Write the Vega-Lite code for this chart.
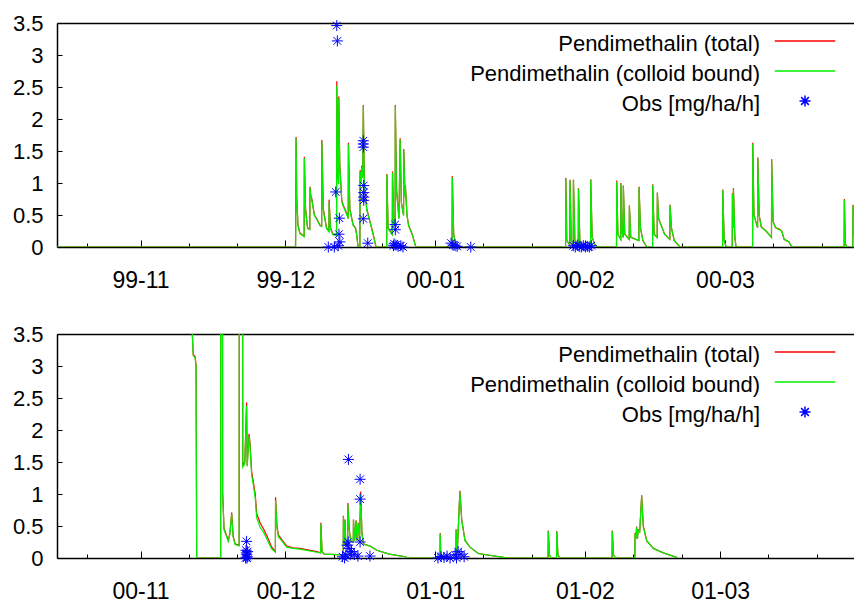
{
"$schema": "https://vega.github.io/schema/vega-lite/v6.json",
"autosize": {"type": "pad"},
"padding": {"left": 12, "top": 12, "right": 0, "bottom": 0},
"bounds": "flush",
"spacing": 87,
"config": {"view": {"stroke": null}, "font": "Liberation Sans", "background": "white"},
"resolve": {"scale": {"color": "independent"}, "legend": {"color": "independent"}},
"datasets": {
"topSim": [
{"t":"1999-10-14T00:00","total":0,"colloid":0},
{"t":"1999-12-03T02:00","total":0,"colloid":0},
{"t":"1999-12-03T03:00","total":0.5,"colloid":0.02},
{"t":"1999-12-03T05:00","total":1.72,"colloid":1.7},
{"t":"1999-12-03T08:00","total":0.8,"colloid":0.78},
{"t":"1999-12-03T14:00","total":0.35,"colloid":0.34},
{"t":"1999-12-04T00:00","total":0.22,"colloid":0.21},
{"t":"1999-12-04T21:00","total":0.17,"colloid":0.16},
{"t":"1999-12-04T22:00","total":1.41,"colloid":1.39},
{"t":"1999-12-05T04:00","total":0.6,"colloid":0.58},
{"t":"1999-12-05T14:00","total":0.3,"colloid":0.29},
{"t":"1999-12-06T01:00","total":0.28,"colloid":0.27},
{"t":"1999-12-06T02:00","total":0.94,"colloid":0.93},
{"t":"1999-12-06T06:00","total":0.8,"colloid":0.79},
{"t":"1999-12-06T10:00","total":0.77,"colloid":0.76},
{"t":"1999-12-07T00:00","total":0.5,"colloid":0.49},
{"t":"1999-12-07T12:00","total":0.44,"colloid":0.43},
{"t":"1999-12-08T04:00","total":0.34,"colloid":0.33},
{"t":"1999-12-08T12:00","total":0.33,"colloid":0.32},
{"t":"1999-12-08T13:00","total":1.67,"colloid":1.64},
{"t":"1999-12-08T20:00","total":0.6,"colloid":0.58},
{"t":"1999-12-09T12:00","total":0.3,"colloid":0.29},
{"t":"1999-12-10T00:00","total":0.25,"colloid":0.24},
{"t":"1999-12-10T01:00","total":0.74,"colloid":0.7},
{"t":"1999-12-10T08:00","total":0.3,"colloid":0.28},
{"t":"1999-12-10T20:00","total":0.2,"colloid":0.19},
{"t":"1999-12-11T14:00","total":0.19,"colloid":0.18},
{"t":"1999-12-11T15:00","total":2.59,"colloid":2.52},
{"t":"1999-12-11T20:00","total":1.2,"colloid":1.17},
{"t":"1999-12-12T00:00","total":1.0,"colloid":0.98},
{"t":"1999-12-12T01:00","total":2.35,"colloid":2.32},
{"t":"1999-12-12T06:00","total":1.3,"colloid":1.27},
{"t":"1999-12-12T16:00","total":0.73,"colloid":0.71},
{"t":"1999-12-13T00:00","total":0.65,"colloid":0.63},
{"t":"1999-12-13T20:00","total":0.5,"colloid":0.48},
{"t":"1999-12-14T00:00","total":0.45,"colloid":0.44},
{"t":"1999-12-14T01:00","total":1.63,"colloid":1.6},
{"t":"1999-12-14T08:00","total":0.6,"colloid":0.58},
{"t":"1999-12-15T00:00","total":0.35,"colloid":0.34},
{"t":"1999-12-15T12:00","total":0.3,"colloid":0.29},
{"t":"1999-12-15T18:00","total":0.2,"colloid":0.19},
{"t":"1999-12-16T00:00","total":0.02,"colloid":0.02},
{"t":"1999-12-16T02:00","total":0,"colloid":0},
{"t":"1999-12-16T10:00","total":0,"colloid":0},
{"t":"1999-12-16T11:00","total":1.2,"colloid":1.18},
{"t":"1999-12-16T14:00","total":1.0,"colloid":0.98},
{"t":"1999-12-16T19:00","total":1.27,"colloid":1.25},
{"t":"1999-12-17T00:00","total":1.1,"colloid":1.08},
{"t":"1999-12-17T03:00","total":2.22,"colloid":2.2},
{"t":"1999-12-17T08:00","total":1.0,"colloid":0.98},
{"t":"1999-12-17T20:00","total":0.6,"colloid":0.58},
{"t":"1999-12-18T17:00","total":0.34,"colloid":0.33},
{"t":"1999-12-19T08:00","total":0.15,"colloid":0.14},
{"t":"1999-12-19T18:00","total":0,"colloid":0},
{"t":"1999-12-21T23:00","total":0,"colloid":0},
{"t":"1999-12-22T00:00","total":1.14,"colloid":1.13},
{"t":"1999-12-22T06:00","total":0.3,"colloid":0.29},
{"t":"1999-12-23T03:00","total":0.2,"colloid":0.19},
{"t":"1999-12-23T04:00","total":1.18,"colloid":1.16},
{"t":"1999-12-23T10:00","total":0.4,"colloid":0.39},
{"t":"1999-12-23T17:00","total":0.35,"colloid":0.34},
{"t":"1999-12-23T18:00","total":2.22,"colloid":2.2},
{"t":"1999-12-24T00:00","total":0.9,"colloid":0.88},
{"t":"1999-12-24T12:00","total":0.45,"colloid":0.44},
{"t":"1999-12-24T18:00","total":1.7,"colloid":1.68},
{"t":"1999-12-25T00:00","total":0.7,"colloid":0.68},
{"t":"1999-12-25T11:00","total":0.5,"colloid":0.49},
{"t":"1999-12-25T12:00","total":1.53,"colloid":1.51},
{"t":"1999-12-25T18:00","total":0.8,"colloid":0.78},
{"t":"1999-12-25T20:00","total":0.96,"colloid":0.95},
{"t":"1999-12-26T04:00","total":0.5,"colloid":0.49},
{"t":"1999-12-26T12:00","total":0.34,"colloid":0.33},
{"t":"1999-12-27T06:00","total":0.2,"colloid":0.19},
{"t":"1999-12-28T00:00","total":0,"colloid":0},
{"t":"2000-01-04T12:00","total":0,"colloid":0},
{"t":"2000-01-04T13:00","total":1.11,"colloid":1.09},
{"t":"2000-01-04T20:00","total":0.2,"colloid":0.19},
{"t":"2000-01-05T06:00","total":0.05,"colloid":0.05},
{"t":"2000-01-05T18:00","total":0,"colloid":0},
{"t":"2000-01-28T00:00","total":0,"colloid":0},
{"t":"2000-01-28T01:00","total":1.08,"colloid":1.07},
{"t":"2000-01-28T06:00","total":0.1,"colloid":0.1},
{"t":"2000-01-28T21:00","total":0.03,"colloid":0.03},
{"t":"2000-01-28T22:00","total":1.05,"colloid":1.04},
{"t":"2000-01-29T04:00","total":0.1,"colloid":0.1},
{"t":"2000-01-29T14:00","total":0.05,"colloid":0.05},
{"t":"2000-01-29T15:00","total":1.05,"colloid":1.04},
{"t":"2000-01-29T22:00","total":0.1,"colloid":0.1},
{"t":"2000-01-30T15:00","total":0.03,"colloid":0.03},
{"t":"2000-01-30T16:00","total":0.92,"colloid":0.91},
{"t":"2000-01-30T23:00","total":0.08,"colloid":0.08},
{"t":"2000-01-31T12:00","total":0,"colloid":0},
{"t":"2000-02-02T04:00","total":0,"colloid":0},
{"t":"2000-02-02T05:00","total":1.06,"colloid":1.05},
{"t":"2000-02-02T12:00","total":0.15,"colloid":0.15},
{"t":"2000-02-03T00:00","total":0.05,"colloid":0.05},
{"t":"2000-02-03T12:00","total":0,"colloid":0},
{"t":"2000-02-07T13:00","total":0,"colloid":0},
{"t":"2000-02-07T14:00","total":1.04,"colloid":1.02},
{"t":"2000-02-07T20:00","total":0.2,"colloid":0.2},
{"t":"2000-02-08T10:00","total":0.12,"colloid":0.12},
{"t":"2000-02-08T11:00","total":1.0,"colloid":0.99},
{"t":"2000-02-08T16:00","total":0.25,"colloid":0.25},
{"t":"2000-02-08T22:00","total":0.15,"colloid":0.15},
{"t":"2000-02-08T23:00","total":0.96,"colloid":0.95},
{"t":"2000-02-09T06:00","total":0.2,"colloid":0.2},
{"t":"2000-02-10T04:00","total":0.12,"colloid":0.12},
{"t":"2000-02-10T05:00","total":0.65,"colloid":0.64},
{"t":"2000-02-10T12:00","total":0.15,"colloid":0.15},
{"t":"2000-02-12T04:00","total":0.1,"colloid":0.1},
{"t":"2000-02-12T05:00","total":0.94,"colloid":0.93},
{"t":"2000-02-12T12:00","total":0.3,"colloid":0.3},
{"t":"2000-02-13T00:00","total":0.1,"colloid":0.1},
{"t":"2000-02-13T19:00","total":0,"colloid":0},
{"t":"2000-02-15T00:00","total":0,"colloid":0},
{"t":"2000-02-15T01:00","total":0.98,"colloid":0.97},
{"t":"2000-02-15T08:00","total":0.2,"colloid":0.2},
{"t":"2000-02-15T23:00","total":0.15,"colloid":0.15},
{"t":"2000-02-16T00:00","total":0.85,"colloid":0.84},
{"t":"2000-02-16T06:00","total":0.45,"colloid":0.44},
{"t":"2000-02-16T18:00","total":0.35,"colloid":0.34},
{"t":"2000-02-17T12:00","total":0.2,"colloid":0.2},
{"t":"2000-02-18T14:00","total":0.12,"colloid":0.12},
{"t":"2000-02-18T15:00","total":0.66,"colloid":0.65},
{"t":"2000-02-18T22:00","total":0.3,"colloid":0.3},
{"t":"2000-02-19T12:00","total":0.1,"colloid":0.1},
{"t":"2000-02-20T17:00","total":0,"colloid":0},
{"t":"2000-02-29T12:00","total":0,"colloid":0},
{"t":"2000-02-29T13:00","total":0.9,"colloid":0.89},
{"t":"2000-02-29T20:00","total":0.1,"colloid":0.1},
{"t":"2000-03-01T06:00","total":0,"colloid":0},
{"t":"2000-03-02T12:00","total":0,"colloid":0},
{"t":"2000-03-02T13:00","total":0.84,"colloid":0.83},
{"t":"2000-03-02T16:00","total":0.3,"colloid":0.3},
{"t":"2000-03-02T18:00","total":0.92,"colloid":0.91},
{"t":"2000-03-03T01:00","total":0.15,"colloid":0.15},
{"t":"2000-03-03T07:00","total":0,"colloid":0},
{"t":"2000-03-06T17:00","total":0,"colloid":0},
{"t":"2000-03-06T18:00","total":1.63,"colloid":1.61},
{"t":"2000-03-07T00:00","total":0.5,"colloid":0.49},
{"t":"2000-03-07T18:00","total":0.3,"colloid":0.3},
{"t":"2000-03-07T19:00","total":1.4,"colloid":1.38},
{"t":"2000-03-08T02:00","total":0.5,"colloid":0.49},
{"t":"2000-03-08T12:00","total":0.32,"colloid":0.31},
{"t":"2000-03-09T12:00","total":0.25,"colloid":0.25},
{"t":"2000-03-10T15:00","total":0.15,"colloid":0.15},
{"t":"2000-03-10T16:00","total":1.37,"colloid":1.35},
{"t":"2000-03-10T23:00","total":0.4,"colloid":0.39},
{"t":"2000-03-11T12:00","total":0.3,"colloid":0.3},
{"t":"2000-03-12T06:00","total":0.28,"colloid":0.27},
{"t":"2000-03-12T18:00","total":0.25,"colloid":0.25},
{"t":"2000-03-13T06:00","total":0.12,"colloid":0.12},
{"t":"2000-03-13T18:00","total":0.1,"colloid":0.1},
{"t":"2000-03-14T06:00","total":0.08,"colloid":0.08},
{"t":"2000-03-14T20:00","total":0,"colloid":0},
{"t":"2000-03-25T16:00","total":0,"colloid":0},
{"t":"2000-03-25T17:00","total":0.75,"colloid":0.74},
{"t":"2000-03-25T22:00","total":0.05,"colloid":0.05},
{"t":"2000-03-26T06:00","total":0,"colloid":0},
{"t":"2000-03-27T11:00","total":0,"colloid":0},
{"t":"2000-03-27T12:00","total":0.66,"colloid":0.65},
{"t":"2000-03-27T18:00","total":0.2,"colloid":0.2},
{"t":"2000-03-28T12:00","total":0.05,"colloid":0.05}
],
"topObs": [
{"t":"1999-12-09T21:00","obs":0},
{"t":"1999-12-11T03:00","obs":0},
{"t":"1999-12-11T10:00","obs":0.86},
{"t":"1999-12-11T15:00","obs":3.46},
{"t":"1999-12-11T18:00","obs":3.22},
{"t":"1999-12-11T22:00","obs":0.02},
{"t":"1999-12-12T02:00","obs":0.2},
{"t":"1999-12-12T04:00","obs":0.45},
{"t":"1999-12-12T06:00","obs":0.08},
{"t":"1999-12-17T03:00","obs":1.66},
{"t":"1999-12-17T03:00","obs":1.61},
{"t":"1999-12-17T03:00","obs":1.56},
{"t":"1999-12-17T03:00","obs":0.44},
{"t":"1999-12-17T05:00","obs":0.96},
{"t":"1999-12-17T05:00","obs":0.85},
{"t":"1999-12-17T05:00","obs":0.78},
{"t":"1999-12-17T05:00","obs":0.73},
{"t":"1999-12-18T01:00","obs":0.06},
{"t":"1999-12-23T09:00","obs":0.02},
{"t":"1999-12-23T12:00","obs":0.05},
{"t":"1999-12-23T17:00","obs":0.35},
{"t":"1999-12-23T18:00","obs":0.27},
{"t":"1999-12-23T21:00","obs":0.03},
{"t":"1999-12-24T08:00","obs":0.01},
{"t":"1999-12-24T21:00","obs":0.02},
{"t":"1999-12-25T08:00","obs":0},
{"t":"2000-01-04T07:00","obs":0.06},
{"t":"2000-01-04T17:00","obs":0.03},
{"t":"2000-01-05T03:00","obs":0.02},
{"t":"2000-01-05T13:00","obs":0.01},
{"t":"2000-01-08T09:00","obs":0},
{"t":"2000-01-29T14:00","obs":0.02},
{"t":"2000-01-30T00:00","obs":0},
{"t":"2000-01-30T10:00","obs":0.03},
{"t":"2000-01-30T20:00","obs":0.01},
{"t":"2000-01-31T06:00","obs":0},
{"t":"2000-01-31T16:00","obs":0.02},
{"t":"2000-02-01T02:00","obs":0},
{"t":"2000-02-01T12:00","obs":0.01},
{"t":"2000-02-01T22:00","obs":0},
{"t":"2000-02-02T08:00","obs":0.02}
],
"botSim": [
{"t":"2000-11-11T12:00","total":6,"colloid":6},
{"t":"2000-11-11T16:00","total":3.6,"colloid":3.58},
{"t":"2000-11-11T22:00","total":3.18,"colloid":3.16},
{"t":"2000-11-12T07:00","total":3.15,"colloid":3.13},
{"t":"2000-11-12T12:00","total":3.02,"colloid":3.0},
{"t":"2000-11-12T15:00","total":0,"colloid":0},
{"t":"2000-11-17T14:00","total":0,"colloid":0},
{"t":"2000-11-17T15:00","total":6,"colloid":6},
{"t":"2000-11-17T23:00","total":5,"colloid":5},
{"t":"2000-11-18T00:00","total":1.03,"colloid":1.0},
{"t":"2000-11-18T07:00","total":0.46,"colloid":0.44},
{"t":"2000-11-18T20:00","total":0.35,"colloid":0.33},
{"t":"2000-11-19T04:00","total":0.27,"colloid":0.26},
{"t":"2000-11-19T12:00","total":0.39,"colloid":0.37},
{"t":"2000-11-19T21:00","total":0.71,"colloid":0.69},
{"t":"2000-11-20T04:00","total":0.35,"colloid":0.33},
{"t":"2000-11-20T14:00","total":0.22,"colloid":0.21},
{"t":"2000-11-21T10:00","total":0.2,"colloid":0.19},
{"t":"2000-11-21T11:00","total":6,"colloid":6},
{"t":"2000-11-22T03:00","total":5,"colloid":5},
{"t":"2000-11-22T04:00","total":1.45,"colloid":1.42},
{"t":"2000-11-22T14:00","total":1.5,"colloid":1.47},
{"t":"2000-11-22T23:00","total":2.43,"colloid":2.38},
{"t":"2000-11-23T02:00","total":1.45,"colloid":1.43},
{"t":"2000-11-23T11:00","total":1.94,"colloid":1.9},
{"t":"2000-11-23T16:00","total":1.8,"colloid":1.75},
{"t":"2000-11-24T00:00","total":1.35,"colloid":1.3},
{"t":"2000-11-24T08:00","total":1.2,"colloid":1.15},
{"t":"2000-11-24T18:00","total":1.0,"colloid":0.94},
{"t":"2000-11-25T01:00","total":0.7,"colloid":0.63},
{"t":"2000-11-25T18:00","total":0.55,"colloid":0.48},
{"t":"2000-11-26T12:00","total":0.45,"colloid":0.4},
{"t":"2000-11-27T03:00","total":0.35,"colloid":0.3},
{"t":"2000-11-28T04:00","total":0.17,"colloid":0.14},
{"t":"2000-11-28T22:00","total":0.1,"colloid":0.09},
{"t":"2000-11-28T23:00","total":0.95,"colloid":0.9},
{"t":"2000-11-29T06:00","total":0.5,"colloid":0.47},
{"t":"2000-11-29T13:00","total":0.36,"colloid":0.33},
{"t":"2000-11-30T05:00","total":0.29,"colloid":0.27},
{"t":"2000-12-01T06:00","total":0.19,"colloid":0.17},
{"t":"2000-12-02T12:00","total":0.16,"colloid":0.15},
{"t":"2000-12-04T00:00","total":0.15,"colloid":0.14},
{"t":"2000-12-07T12:00","total":0.1,"colloid":0.09},
{"t":"2000-12-08T07:00","total":0.08,"colloid":0.08},
{"t":"2000-12-08T08:00","total":0.55,"colloid":0.53},
{"t":"2000-12-08T14:00","total":0.1,"colloid":0.1},
{"t":"2000-12-09T00:00","total":0.06,"colloid":0.06},
{"t":"2000-12-12T23:00","total":0.05,"colloid":0.05},
{"t":"2000-12-13T00:00","total":0.66,"colloid":0.65},
{"t":"2000-12-13T04:00","total":0.2,"colloid":0.2},
{"t":"2000-12-13T08:00","total":0.6,"colloid":0.59},
{"t":"2000-12-13T12:00","total":0.22,"colloid":0.22},
{"t":"2000-12-13T21:00","total":0.2,"colloid":0.2},
{"t":"2000-12-13T22:00","total":0.86,"colloid":0.84},
{"t":"2000-12-14T05:00","total":0.45,"colloid":0.44},
{"t":"2000-12-14T12:00","total":0.27,"colloid":0.27},
{"t":"2000-12-15T01:00","total":0.25,"colloid":0.25},
{"t":"2000-12-15T02:00","total":0.6,"colloid":0.59},
{"t":"2000-12-15T08:00","total":0.27,"colloid":0.27},
{"t":"2000-12-15T15:00","total":0.59,"colloid":0.58},
{"t":"2000-12-15T20:00","total":0.27,"colloid":0.27},
{"t":"2000-12-16T02:00","total":0.55,"colloid":0.54},
{"t":"2000-12-16T08:00","total":0.27,"colloid":0.27},
{"t":"2000-12-16T14:00","total":1.04,"colloid":1.0},
{"t":"2000-12-16T20:00","total":0.4,"colloid":0.39},
{"t":"2000-12-17T03:00","total":0.22,"colloid":0.22},
{"t":"2000-12-18T17:00","total":0.18,"colloid":0.18},
{"t":"2000-12-19T22:00","total":0.12,"colloid":0.12},
{"t":"2000-12-22T12:00","total":0.06,"colloid":0.06},
{"t":"2000-12-25T19:00","total":0.02,"colloid":0.02},
{"t":"2000-12-26T12:00","total":0,"colloid":0},
{"t":"2001-01-02T00:00","total":0,"colloid":0},
{"t":"2001-01-02T01:00","total":0.39,"colloid":0.38},
{"t":"2001-01-02T04:00","total":0.03,"colloid":0.03},
{"t":"2001-01-03T12:00","total":0,"colloid":0},
{"t":"2001-01-05T07:00","total":0,"colloid":0},
{"t":"2001-01-05T08:00","total":0.45,"colloid":0.44},
{"t":"2001-01-05T14:00","total":0.1,"colloid":0.1},
{"t":"2001-01-06T00:00","total":0.85,"colloid":0.84},
{"t":"2001-01-06T03:00","total":1.05,"colloid":1.03},
{"t":"2001-01-06T12:00","total":0.6,"colloid":0.59},
{"t":"2001-01-07T04:00","total":0.28,"colloid":0.27},
{"t":"2001-01-08T05:00","total":0.17,"colloid":0.17},
{"t":"2001-01-09T22:00","total":0.07,"colloid":0.07},
{"t":"2001-01-15T02:00","total":0.01,"colloid":0.01},
{"t":"2001-01-16T00:00","total":0,"colloid":0},
{"t":"2001-01-24T09:00","total":0,"colloid":0},
{"t":"2001-01-24T10:00","total":0.43,"colloid":0.42},
{"t":"2001-01-24T16:00","total":0.05,"colloid":0.05},
{"t":"2001-01-25T00:00","total":0,"colloid":0},
{"t":"2001-01-26T03:00","total":0,"colloid":0},
{"t":"2001-01-26T04:00","total":0.42,"colloid":0.41},
{"t":"2001-01-26T10:00","total":0.05,"colloid":0.05},
{"t":"2001-01-26T20:00","total":0,"colloid":0},
{"t":"2001-02-06T15:00","total":0,"colloid":0},
{"t":"2001-02-06T16:00","total":0.43,"colloid":0.42},
{"t":"2001-02-06T22:00","total":0.05,"colloid":0.05},
{"t":"2001-02-07T08:00","total":0,"colloid":0},
{"t":"2001-02-11T08:00","total":0,"colloid":0},
{"t":"2001-02-11T09:00","total":0.39,"colloid":0.38},
{"t":"2001-02-11T13:00","total":0.3,"colloid":0.3},
{"t":"2001-02-11T17:00","total":0.49,"colloid":0.48},
{"t":"2001-02-11T21:00","total":0.3,"colloid":0.3},
{"t":"2001-02-12T01:00","total":0.45,"colloid":0.44},
{"t":"2001-02-12T08:00","total":0.4,"colloid":0.39},
{"t":"2001-02-12T18:00","total":0.98,"colloid":0.96},
{"t":"2001-02-13T02:00","total":0.5,"colloid":0.49},
{"t":"2001-02-13T19:00","total":0.27,"colloid":0.27},
{"t":"2001-02-15T04:00","total":0.15,"colloid":0.15},
{"t":"2001-02-17T06:00","total":0.08,"colloid":0.08},
{"t":"2001-02-20T00:00","total":0.01,"colloid":0.01},
{"t":"2001-02-20T06:00","total":0,"colloid":0}
],
"botObs": [
{"t":"2000-11-22T18:00","obs":0},
{"t":"2000-11-22T20:00","obs":0.12},
{"t":"2000-11-22T22:00","obs":0.08},
{"t":"2000-11-22T23:00","obs":0.26},
{"t":"2000-11-23T00:00","obs":0.05},
{"t":"2000-11-23T01:00","obs":0},
{"t":"2000-11-23T02:00","obs":0.02},
{"t":"2000-11-23T04:00","obs":0.1},
{"t":"2000-12-12T20:00","obs":0.02},
{"t":"2000-12-13T06:00","obs":0},
{"t":"2000-12-13T12:00","obs":0.05},
{"t":"2000-12-13T18:00","obs":0.2},
{"t":"2000-12-14T00:00","obs":0.25},
{"t":"2000-12-14T01:00","obs":1.54},
{"t":"2000-12-14T04:00","obs":0.15},
{"t":"2000-12-14T10:00","obs":0.05},
{"t":"2000-12-14T16:00","obs":0.1},
{"t":"2000-12-15T06:00","obs":0.06},
{"t":"2000-12-16T00:00","obs":0.03},
{"t":"2000-12-16T11:00","obs":1.23},
{"t":"2000-12-16T11:00","obs":0.92},
{"t":"2000-12-16T11:00","obs":0.25},
{"t":"2000-12-18T12:00","obs":0.03},
{"t":"2001-01-01T14:00","obs":0},
{"t":"2001-01-02T05:00","obs":0.02},
{"t":"2001-01-02T20:00","obs":0.01},
{"t":"2001-01-03T11:00","obs":0.03},
{"t":"2001-01-04T02:00","obs":0},
{"t":"2001-01-05T03:00","obs":0.05},
{"t":"2001-01-05T10:00","obs":0},
{"t":"2001-01-05T18:00","obs":0.1},
{"t":"2001-01-06T09:00","obs":0.06},
{"t":"2001-01-07T00:00","obs":0.02}
]
},
"vconcat": [
{
"width": 797, "height": 224,
"resolve": {"axis": {"x": "independent"}},
"layer": [
{"data": {"name": "topSim"}, "mark": {"type": "line", "clip": true, "strokeWidth": 1.2},
 "encoding": {
  "x": {"field": "t", "type": "temporal", "scale": {"domain": [{"year":1999,"month":10,"date":14,"hours":17},{"year":2000,"month":3,"date":27,"hours":17}], "nice": false},
        "axis": {"orient": "bottom", "title": null, "grid": false, "format": "%y-%m", "values": [{"year":1999,"month":11,"date":1},{"year":1999,"month":12,"date":1},{"year":2000,"month":1,"date":1},{"year":2000,"month":2,"date":1},{"year":2000,"month":3,"date":1}],
                 "tickSize": -7, "tickColor": "black", "tickWidth": 1, "labelPadding": 29, "labelFlush": false, "labelOverlap": false, "labelFontSize": 23, "labelColor": "black", "domainColor": "black", "domainWidth": 1.5}},
  "y": {"field": "total", "type": "quantitative", "scale": {"domain": [0, 3.5], "nice": false, "zero": false},
        "axis": {"title": null, "grid": false, "values": [0,0.5,1,1.5,2,2.5,3,3.5], "format": "~g", "tickSize": -5, "tickColor": "black", "labelPadding": 19, "labelFontSize": 22, "labelColor": "black", "domainColor": "black", "domainWidth": 1.5}},
  "color": {"datum": "total", "type": "nominal",
            "scale": {"domain": ["total", "colloid", "obs"], "range": ["#ff0000", "#00f000", "#0000ff"]},
            "legend": {"orient": "none", "legendX": 737, "legendY": 7, "title": null, "padding": 0,
                       "labelExpr": "datum.value === 'total' ? 'Pendimethalin (total)' : datum.value === 'colloid' ? 'Pendimethalin (colloid bound)' : 'Obs [mg/ha/h]'",
                       "labelAlign": "right", "labelOffset": -56, "labelFontSize": 22, "labelColor": "black", "labelLimit": 500,
                       "symbolSize": 121, "symbolStrokeWidth": 1.5, "rowPadding": 5,
                       "encode": {"symbols": {"update": {"shape": {"signal": "datum.value === 'obs' ? 'M-1,0L1,0M0,-1L0,1M-0.7,-0.7L0.7,0.7M-0.7,0.7L0.7,-0.7' : 'M-5.5,0L5.5,0'"}, "fill": {"value": "transparent"}, "stroke": {"signal": "datum.value === 'total' ? '#ff0000' : datum.value === 'colloid' ? '#00f000' : '#0000ff'"}, "strokeWidth": {"value": 1.5}, "opacity": {"value": 1}, "size": {"value": 121}}},
                                  "labels": {"update": {"dy": {"value": 3}}}}}}
 }},
{"data": {"name": "topSim"}, "mark": {"type": "line", "clip": true, "strokeWidth": 1.2},
 "encoding": {
  "x": {"field": "t", "type": "temporal", "scale": {"domain": [{"year":1999,"month":10,"date":14,"hours":17},{"year":2000,"month":3,"date":27,"hours":17}], "nice": false},
        "axis": {"orient": "bottom", "title": null, "grid": false, "labels": false, "domain": false, "values": [{"year":1999,"month":10,"date":21},{"year":1999,"month":11,"date":11},{"year":1999,"month":11,"date":21},{"year":1999,"month":12,"date":11},{"year":1999,"month":12,"date":21},{"year":2000,"month":1,"date":11},{"year":2000,"month":1,"date":21},{"year":2000,"month":2,"date":11},{"year":2000,"month":2,"date":21},{"year":2000,"month":3,"date":11},{"year":2000,"month":3,"date":21}],
                 "tickSize": -4, "tickColor": "black", "tickWidth": 1}},
  "y": {"field": "colloid", "type": "quantitative", "scale": {"domain": [0, 3.5], "nice": false, "zero": false},
        "axis": {"title": null, "grid": false, "values": [0,0.5,1,1.5,2,2.5,3,3.5], "format": "~g", "tickSize": -5, "tickColor": "black", "labelPadding": 19, "labelFontSize": 22, "labelColor": "black", "domainColor": "black", "domainWidth": 1.5}},
  "color": {"datum": "colloid", "type": "nominal"}
 }},
{"data": {"name": "topObs"}, "mark": {"type": "point", "filled": false, "shape": "M-1,0L1,0M0,-1L0,1M-0.7,-0.7L0.7,0.7M-0.7,0.7L0.7,-0.7", "size": 121, "strokeWidth": 1, "opacity": 1},
 "encoding": {
  "x": {"field": "t", "type": "temporal", "scale": {"domain": [{"year":1999,"month":10,"date":14,"hours":17},{"year":2000,"month":3,"date":27,"hours":17}], "nice": false},
        "axis": {"orient": "top", "title": null, "grid": false, "labels": false, "ticks": false, "domain": true, "domainColor": "black", "domainWidth": 1.5}},
  "y": {"field": "obs", "type": "quantitative", "scale": {"domain": [0, 3.5], "nice": false, "zero": false},
        "axis": {"title": null, "grid": false, "values": [0,0.5,1,1.5,2,2.5,3,3.5], "format": "~g", "tickSize": -5, "tickColor": "black", "labelPadding": 19, "labelFontSize": 22, "labelColor": "black", "domainColor": "black", "domainWidth": 1.5}},
  "color": {"datum": "obs", "type": "nominal"}
 }}
]
},
{
"width": 797, "height": 224,
"resolve": {"axis": {"x": "independent"}},
"layer": [
{"data": {"name": "botSim"}, "mark": {"type": "line", "clip": true, "strokeWidth": 1.2},
 "encoding": {
  "x": {"field": "t", "type": "temporal", "scale": {"domain": [{"year":2000,"month":10,"date":14,"hours":17},{"year":2001,"month":3,"date":28,"hours":17}], "nice": false},
        "axis": {"orient": "bottom", "title": null, "grid": false, "format": "%y-%m", "values": [{"year":2000,"month":11,"date":1},{"year":2000,"month":12,"date":1},{"year":2001,"month":1,"date":1},{"year":2001,"month":2,"date":1},{"year":2001,"month":3,"date":1}],
                 "tickSize": -7, "tickColor": "black", "tickWidth": 1, "labelPadding": 29, "labelFlush": false, "labelOverlap": false, "labelFontSize": 23, "labelColor": "black", "domainColor": "black", "domainWidth": 1.5}},
  "y": {"field": "total", "type": "quantitative", "scale": {"domain": [0, 3.5], "nice": false, "zero": false},
        "axis": {"title": null, "grid": false, "values": [0,0.5,1,1.5,2,2.5,3,3.5], "format": "~g", "tickSize": -5, "tickColor": "black", "labelPadding": 19, "labelFontSize": 22, "labelColor": "black", "domainColor": "black", "domainWidth": 1.5}},
  "color": {"datum": "total", "type": "nominal",
            "scale": {"domain": ["total", "colloid", "obs"], "range": ["#ff0000", "#00f000", "#0000ff"]},
            "legend": {"orient": "none", "legendX": 737, "legendY": 7, "title": null, "padding": 0,
                       "labelExpr": "datum.value === 'total' ? 'Pendimethalin (total)' : datum.value === 'colloid' ? 'Pendimethalin (colloid bound)' : 'Obs [mg/ha/h]'",
                       "labelAlign": "right", "labelOffset": -56, "labelFontSize": 22, "labelColor": "black", "labelLimit": 500,
                       "symbolSize": 121, "symbolStrokeWidth": 1.5, "rowPadding": 5,
                       "encode": {"symbols": {"update": {"shape": {"signal": "datum.value === 'obs' ? 'M-1,0L1,0M0,-1L0,1M-0.7,-0.7L0.7,0.7M-0.7,0.7L0.7,-0.7' : 'M-5.5,0L5.5,0'"}, "fill": {"value": "transparent"}, "stroke": {"signal": "datum.value === 'total' ? '#ff0000' : datum.value === 'colloid' ? '#00f000' : '#0000ff'"}, "strokeWidth": {"value": 1.5}, "opacity": {"value": 1}, "size": {"value": 121}}},
                                  "labels": {"update": {"dy": {"value": 3}}}}}}
 }},
{"data": {"name": "botSim"}, "mark": {"type": "line", "clip": true, "strokeWidth": 1.2},
 "encoding": {
  "x": {"field": "t", "type": "temporal", "scale": {"domain": [{"year":2000,"month":10,"date":14,"hours":17},{"year":2001,"month":3,"date":28,"hours":17}], "nice": false},
        "axis": {"orient": "bottom", "title": null, "grid": false, "labels": false, "domain": false, "values": [{"year":2000,"month":10,"date":21},{"year":2000,"month":11,"date":11},{"year":2000,"month":11,"date":21},{"year":2000,"month":12,"date":11},{"year":2000,"month":12,"date":21},{"year":2001,"month":1,"date":11},{"year":2001,"month":1,"date":21},{"year":2001,"month":2,"date":11},{"year":2001,"month":2,"date":21},{"year":2001,"month":3,"date":11},{"year":2001,"month":3,"date":21}],
                 "tickSize": -4, "tickColor": "black", "tickWidth": 1}},
  "y": {"field": "colloid", "type": "quantitative", "scale": {"domain": [0, 3.5], "nice": false, "zero": false},
        "axis": {"title": null, "grid": false, "values": [0,0.5,1,1.5,2,2.5,3,3.5], "format": "~g", "tickSize": -5, "tickColor": "black", "labelPadding": 19, "labelFontSize": 22, "labelColor": "black", "domainColor": "black", "domainWidth": 1.5}},
  "color": {"datum": "colloid", "type": "nominal"}
 }},
{"data": {"name": "botObs"}, "mark": {"type": "point", "filled": false, "shape": "M-1,0L1,0M0,-1L0,1M-0.7,-0.7L0.7,0.7M-0.7,0.7L0.7,-0.7", "size": 121, "strokeWidth": 1, "opacity": 1},
 "encoding": {
  "x": {"field": "t", "type": "temporal", "scale": {"domain": [{"year":2000,"month":10,"date":14,"hours":17},{"year":2001,"month":3,"date":28,"hours":17}], "nice": false},
        "axis": {"orient": "top", "title": null, "grid": false, "labels": false, "ticks": false, "domain": true, "domainColor": "black", "domainWidth": 1.5}},
  "y": {"field": "obs", "type": "quantitative", "scale": {"domain": [0, 3.5], "nice": false, "zero": false},
        "axis": {"title": null, "grid": false, "values": [0,0.5,1,1.5,2,2.5,3,3.5], "format": "~g", "tickSize": -5, "tickColor": "black", "labelPadding": 19, "labelFontSize": 22, "labelColor": "black", "domainColor": "black", "domainWidth": 1.5}},
  "color": {"datum": "obs", "type": "nominal"}
 }}
]
}
]
}
